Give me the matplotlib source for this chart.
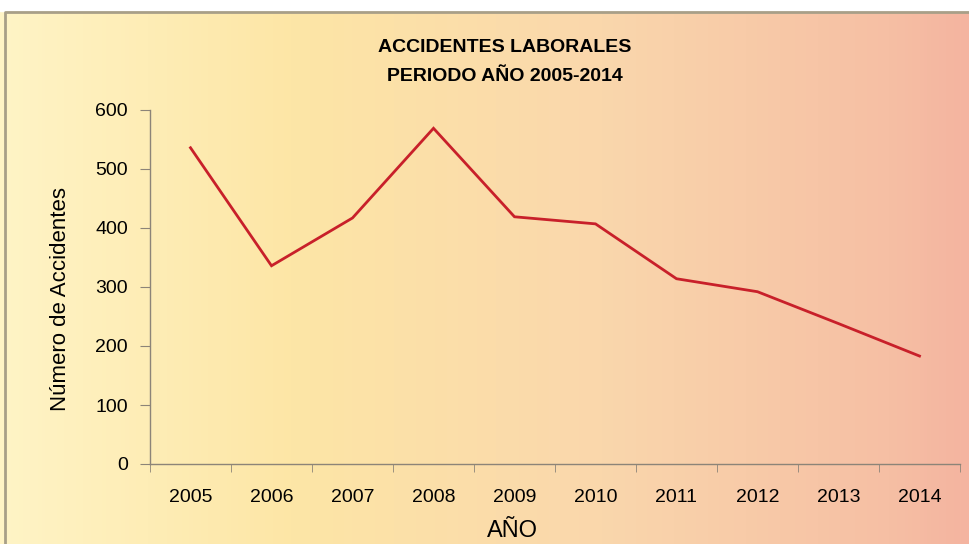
import matplotlib.pyplot as plt
import numpy as np
from matplotlib.colors import LinearSegmentedColormap

# data
years = ['2005', '2006', '2007', '2008', '2009', '2010', '2011', '2012', '2013', '2014']
accidentes = [536, 336, 417, 569, 419, 407, 314, 292, 238, 183]

plt.rcParams['font.family'] = ['Liberation Sans Narrow', 'Liberation Sans', 'DejaVu Sans']

fig = plt.figure(figsize=(9.69, 5.44), dpi=100)

# background gradient (yellow -> salmon), with a thin frame and white strip on top
bg = fig.add_axes([0, 0, 1, 1])
cmap = LinearSegmentedColormap.from_list('bg', [(0.0, '#FFF4C6'), (0.3, '#FDE6A6'),
                                              (0.62, '#FAD7AC'), (0.92, '#F6BFA4'),
                                              (1.0, '#F4B4A0')])
grad = np.linspace(0, 1, 256).reshape(1, -1)
bg.imshow(grad, aspect='auto', cmap=cmap, extent=[0, 1, 0, 1])
bg.fill_between([0, 1], 1 - 11 / 544, 1, color='white', zorder=2)
bg.plot([5 / 969, 5 / 969, 1], [0, 1 - 11.5 / 544, 1 - 11.5 / 544], color='#A89F88', lw=2, zorder=3)
bg.set_xlim(0, 1)
bg.set_ylim(0, 1)
bg.axis('off')

ax = fig.add_axes([150 / 969, 1 - 464 / 544, 810 / 969, 354 / 544])
ax.set_facecolor('none')
x = np.arange(len(years))
ax.plot(x, accidentes, color='#C8202A', lw=2.0, solid_joinstyle='miter')

ax.set_xlim(-0.5, len(years) - 0.5)
ax.set_ylim(0, 600)
ax.set_yticks(range(0, 601, 100))
ax.set_xticks(x)
ax.set_xticklabels(years)
ax.set_xticks(np.arange(-0.5, len(years)), minor=True)
ax.tick_params(axis='x', which='major', length=0, pad=18, labelsize=14)
ax.tick_params(axis='x', which='minor', length=6, color='#8C8478', direction='out')
ax.tick_params(axis='y', length=7, color='#8C8478', pad=9, labelsize=14)
for s in ['top', 'right']:
    ax.spines[s].set_visible(False)
for s in ['left', 'bottom']:
    ax.spines[s].set_color('#8C8478')
    ax.spines[s].set_linewidth(1.0)

fig.text(505 / 969, 1 - 62 / 544, 'ACCIDENTES LABORALES\nPERIODO AÑO 2005-2014',
         ha='center', va='center', fontsize=14, fontweight='bold', linespacing=1.9)
fig.text(60 / 969, 1 - 299 / 544, 'Número de Accidentes', rotation=90,
         ha='center', va='center', fontsize=16)
fig.text(512 / 969, 1 - 531 / 544, 'AÑO', ha='center', va='center', fontsize=17)

plt.savefig('out.png', dpi=100)
